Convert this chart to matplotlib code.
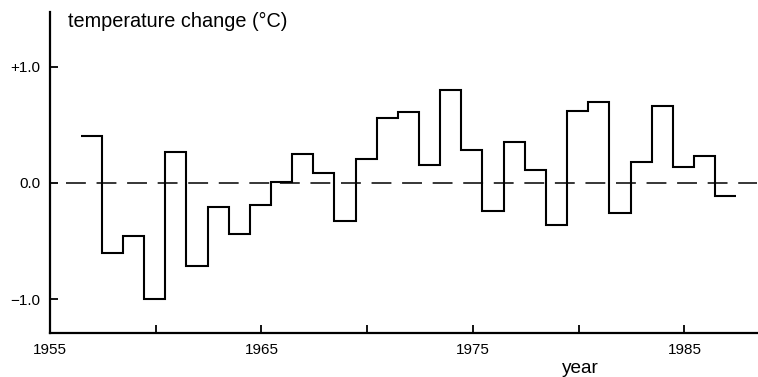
import matplotlib.pyplot as plt
import numpy as np

plt.rcParams['font.family'] = ['Liberation Sans', 'DejaVu Sans']

# yearly temperature change (deg C), 1957-1987
years = list(range(1957, 1988))
temp_change = [0.40, -0.60, -0.46, -1.00, 0.27, -0.71, -0.21, -0.44, -0.19, 0.01,
               0.25, 0.085, -0.33, 0.21, 0.555, 0.61, 0.155, 0.80, 0.28, -0.245,
               0.35, 0.115, -0.36, 0.62, 0.70, -0.255, 0.18, 0.66, 0.135, 0.23,
               -0.115]

x_ticks = [1955, 1960, 1965, 1970, 1975, 1980, 1985]
x_tick_labels = ['1955', '', '1965', '', '1975', '', '1985']
y_ticks = [-1.0, 0.0, 1.0]
y_tick_labels = ['\u22121.0', '0.0', '+1.0']

fig = plt.figure(figsize=(7.58, 3.77), dpi=100)
ax = fig.add_axes([50 / 758, 44 / 377, 707 / 758, 321 / 377])

edges = np.append(years, years[-1] + 1) - 0.55
ax.stairs(temp_change, edges, color='black', linewidth=1.5, baseline=None)

ax.axhline(0, xmin=0.023, xmax=1.0, color='black', linewidth=1.1,
           linestyle=(0, (13, 7)))

ax.set_xlim(1955, 1988.43)
ax.set_ylim(-1.29, 1.47)

ax.set_xticks(x_ticks)
ax.set_xticklabels(x_tick_labels, fontsize=11)
ax.set_yticks(y_ticks)
ax.set_yticklabels(y_tick_labels, fontsize=11)
ax.tick_params(axis='both', direction='in', length=6, width=1.3)
ax.tick_params(axis='y', pad=7)
ax.tick_params(axis='x', pad=7)

for side in ['top', 'right']:
    ax.spines[side].set_visible(False)
for side in ['left', 'bottom']:
    ax.spines[side].set_linewidth(1.6)

ax.text(0.025, 0.953, 'temperature change (\u00b0C)', transform=ax.transAxes,
        fontsize=14.3, ha='left', va='baseline')
ax.text(0.75, -0.1246, 'year', transform=ax.transAxes,
        fontsize=13.7, ha='center', va='baseline')

fig.savefig('out.png', dpi=100)
